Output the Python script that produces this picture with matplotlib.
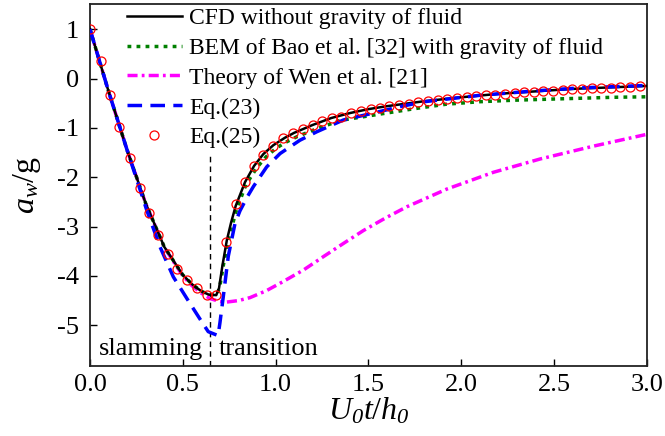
import matplotlib
matplotlib.use("Agg")
from matplotlib import pyplot as plt

plt.rcParams["font.family"] = "Liberation Serif"
plt.rcParams["mathtext.fontset"] = "custom"
plt.rcParams["mathtext.rm"] = "Liberation Serif"
plt.rcParams["mathtext.it"] = "Liberation Serif:italic"
# italic digits for the subscripts (mathtext puts digits in roman otherwise)
plt.rcParams["mathtext.sf"] = "Liberation Serif:italic"
plt.rcParams["axes.unicode_minus"] = False

################################################################################
# data
################################################################################

# CFD without gravity of fluid
t_cfd = [0.0, 0.1, 0.2, 0.3, 0.4, 0.5, 0.55, 0.6, 0.64, 0.68, 0.695, 0.713, 0.737,
         0.76, 0.785, 0.835, 0.884, 0.934, 0.988, 1.05, 1.1, 1.2, 1.3, 1.4, 1.5, 1.6,
         1.8, 2.0, 2.2, 2.4, 2.6, 2.8, 3.0]
a_cfd = [1.0, -0.26, -1.45, -2.53, -3.41, -3.98, -4.17, -4.31, -4.38, -4.39, -4.25,
         -3.80, -3.28, -2.92, -2.58, -2.10, -1.77, -1.53, -1.35, -1.20, -1.10, -0.94,
         -0.80, -0.70, -0.62, -0.56, -0.46, -0.38, -0.31, -0.26, -0.21, -0.18, -0.15]

# BEM of Bao et al. [32]
t_bem = [0.0, 0.1, 0.2, 0.3, 0.4, 0.5, 0.55, 0.6, 0.64, 0.685, 0.70, 0.72, 0.75, 0.79,
         0.84, 0.9, 0.95, 1.0, 1.05, 1.114, 1.2, 1.347, 1.563, 1.75, 1.92, 2.1, 2.28,
         2.46, 2.64, 2.82, 3.0]
a_bem = [1.0, -0.26, -1.45, -2.53, -3.41, -3.98, -4.17, -4.31, -4.38, -4.38, -4.20,
         -3.75, -3.20, -2.65, -2.15, -1.80, -1.58, -1.42, -1.30, -1.18, -1.05, -0.85,
         -0.72, -0.61, -0.52, -0.47, -0.44, -0.42, -0.40, -0.38, -0.37]

# Theory of Wen et al. [21]
t_wen = [0.0, 0.1, 0.2, 0.3, 0.4, 0.5, 0.55, 0.6, 0.647, 0.70, 0.737, 0.80, 0.862,
         0.95, 1.033, 1.15, 1.257, 1.37, 1.473, 1.59, 1.706, 1.922, 2.173, 2.425,
         2.712, 3.0]
a_wen = [1.0, -0.26, -1.45, -2.53, -3.42, -4.00, -4.20, -4.35, -4.46, -4.52, -4.53,
         -4.50, -4.44, -4.30, -4.13, -3.88, -3.61, -3.33, -3.08, -2.83, -2.60, -2.24,
         -1.90, -1.63, -1.37, -1.13]

# Eq.(23)
t_eq23 = [0.0, 0.1, 0.2, 0.306, 0.377, 0.449, 0.539, 0.602, 0.637, 0.69, 0.70, 0.718,
          0.745, 0.781, 0.808, 0.85, 0.88, 0.952, 1.024, 1.131, 1.221, 1.365, 1.526,
          1.67, 1.8, 2.1, 2.4, 2.64, 3.0]
a_eq23 = [1.0, -0.26, -1.45, -2.67, -3.41, -4.02, -4.56, -4.93, -5.13, -5.21, -4.95,
          -4.42, -3.60, -2.94, -2.68, -2.38, -2.19, -1.79, -1.52, -1.25, -1.08, -0.84,
          -0.70, -0.57, -0.47, -0.34, -0.25, -0.19, -0.14]

# Eq.(25)
t_eq25 = [0.0, 0.058, 0.106, 0.158, 0.216, 0.269, 0.319, 0.368, 0.422, 0.47, 0.524,
          0.575, 0.629, 0.679, 0.731, 0.785, 0.835, 0.884, 0.934, 0.988, 1.041, 1.095,
          1.146, 1.2, 1.25, 1.302, 1.352, 1.406, 1.46, 1.512, 1.563, 1.613, 1.665,
          1.717, 1.769, 1.82, 1.872, 1.924, 1.976, 2.028, 2.08, 2.131, 2.183, 2.235,
          2.287, 2.339, 2.391, 2.442, 2.494, 2.546, 2.598, 2.65, 2.702, 2.753, 2.805,
          2.857, 2.909, 2.961]
a_eq25 = [1.0, 0.36, -0.34, -0.99, -1.62, -2.21, -2.72, -3.17, -3.56, -3.85, -4.09,
          -4.25, -4.38, -4.39, -3.32, -2.54, -2.09, -1.77, -1.54, -1.36, -1.21, -1.11,
          -1.03, -0.95, -0.87, -0.81, -0.77, -0.70, -0.66, -0.62, -0.59, -0.56, -0.53,
          -0.51, -0.48, -0.46, -0.44, -0.42, -0.40, -0.38, -0.36, -0.34, -0.33, -0.31,
          -0.30, -0.28, -0.27, -0.26, -0.25, -0.24, -0.22, -0.21, -0.20, -0.19, -0.19,
          -0.18, -0.17, -0.16]

t_split = 0.645   # slamming / transition boundary

################################################################################
# graf
################################################################################

fig = plt.figure(figsize=(6.65, 4.36), dpi=100)
ax = fig.add_axes([0.1353, 0.1612, 0.8376, 0.8296])

l_wen, = ax.plot(t_wen, a_wen, color="magenta", lw=2.5, dashes=(2.9, 1.2, 0.8, 1.2), zorder=2)
l_bem, = ax.plot(t_bem, a_bem, color="green", lw=2.5, dashes=(1.1, 1.5), zorder=3)
l_cfd, = ax.plot(t_cfd, a_cfd, color="black", lw=1.8, zorder=4)
l_eq23, = ax.plot(t_eq23, a_eq23, color="blue", lw=2.5, dashes=(4.2, 2.4), zorder=5)
l_eq25, = ax.plot(t_eq25, a_eq25, "o", color="red", markerfacecolor="none",
                  markersize=6.5, markeredgewidth=0.9, zorder=6)

ax.vlines(t_split, -5.82, -1.58, colors="black", linestyles=(0, (4, 3)), lw=1.0, zorder=1)
ax.text(0.05, -5.61, "slamming", fontsize=19, va="baseline", ha="left")
ax.text(0.691, -5.61, "transition", fontsize=19, va="baseline", ha="left")

ax.set_xlim(0, 3)
ax.set_ylim(-5.82, 1.51)
ax.set_xticks([0.0, 0.5, 1.0, 1.5, 2.0, 2.5, 3.0])
ax.set_xticklabels(["0.0", "0.5", "1.0", "1.5", "2.0", "2.5", "3.0"])
ax.set_yticks([1, 0, -1, -2, -3, -4, -5])
ax.tick_params(direction="in", length=5, width=1.0, labelsize=19)
ax.tick_params(axis="x", pad=6)
ax.tick_params(axis="y", pad=8)
for sp in ax.spines.values():
    sp.set_linewidth(1.3)
    sp.set_color("#222222")

ax.set_xlabel(r"$U_\mathsf{0}t/h_\mathsf{0}$", fontsize=23, labelpad=0)
ax.set_ylabel(r"$a_w/\mathrm{g}$", fontsize=23, labelpad=10)

ax.legend([l_cfd, l_bem, l_wen, l_eq23, l_eq25],
          ["CFD without gravity of fluid",
           "BEM of Bao et al. [32] with gravity of fluid",
           "Theory of Wen et al. [21]",
           "Eq.(23)",
           "Eq.(25)"],
          loc="upper left", bbox_to_anchor=(0.066, 0.99), frameon=False,
          fontsize=17, borderpad=0, borderaxespad=0, handlelength=2.35,
          handletextpad=0.3, labelspacing=0.35, numpoints=1)

plt.savefig("out.png", dpi=100)
